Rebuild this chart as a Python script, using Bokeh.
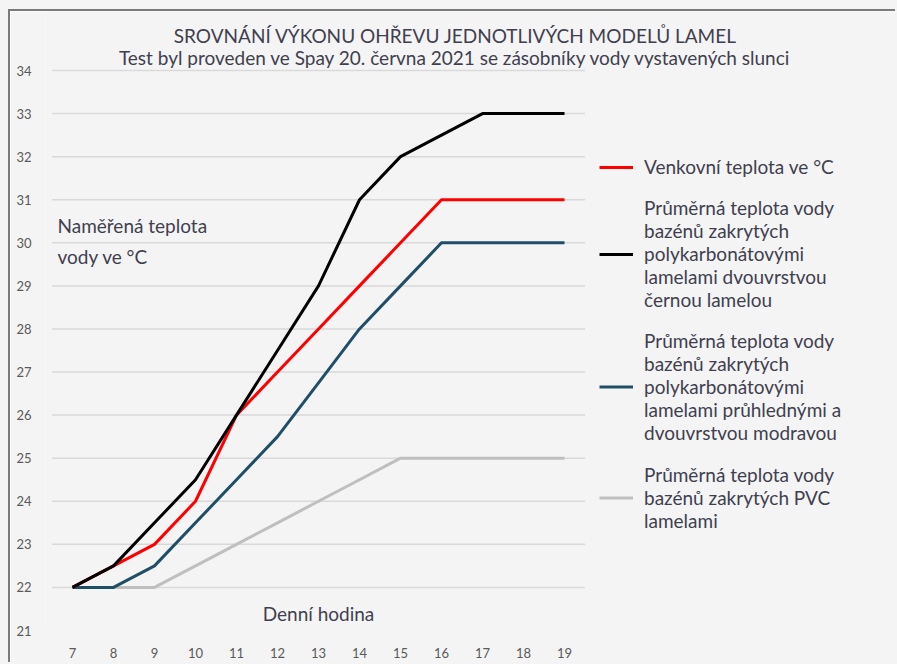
from bokeh.plotting import figure
from bokeh.models import Legend, LegendItem, Label, FixedTicker
from bokeh.embed import file_html
from bokeh.resources import INLINE

# ---- data ----
hours = [7, 8, 9, 10, 11, 12, 13, 14, 15, 16, 17, 18, 19]
outdoor = [22, 22.5, 23, 24, 26, 27, 28, 29, 30, 31, 31, 31, 31]
black_pc = [22, 22.5, 23.5, 24.5, 26, 27.5, 29, 31, 32, 32.5, 33, 33, 33]
clear_pc = [22, 22, 22.5, 23.5, 24.5, 25.5, 26.75, 28, 29, 30, 30, 30, 30]
pvc = [22, 22, 22, 22.5, 23, 23.5, 24, 24.5, 25, 25, 25, 25, 25]
y_ticks = [21, 22, 23, 24, 25, 26, 27, 28, 29, 30, 31, 32, 33, 34]

names = [
    "Venkovní teplota ve °C",
    "Průměrná teplota vody\nbazénů zakrytých\npolykarbonátovými\nlamelami dvouvrstvou\nčernou lamelou",
    "Průměrná teplota vody\nbazénů zakrytých\npolykarbonátovými\nlamelami průhlednými a\ndvouvrstvou modravou",
    "Průměrná teplota vody\nbazénů zakrytých PVC\nlamelami",
]
title1 = "SROVNÁNÍ VÝKONU OHŘEVU JEDNOTLIVÝCH MODELŮ LAMEL"
title2 = "Test byl proveden ve Spay 20. června 2021 se zásobníky vody vystavených slunci"
ylab = ["Naměřená teplota", "vody ve °C"]
xlab = "Denní hodina"

FONT = "Lato"
TXT = "#3f3f4f"
BG = "#f4f4f4"

# ---- layout (page pixels) ----
OX, OY = 10, 11            # canvas origin on the page
FL, FR, FT, FB = 45, 897, 11, 630   # frame edges
X7, XS = 72, 41.0          # pixel of hour 7, px per hour
YS = (630 - 70) / 13.0     # px per degree

def sx(px):
    return px - FL

def sy(py):
    return FB - py

W, H = 897 - OX, 664 - OY
p = figure(width=W, height=H,
           x_range=(7 - (X7 - FL) / XS, 7 + (FR - X7) / XS),
           y_range=(y_ticks[0], y_ticks[0] + (FB - FT) / YS),
           output_backend="svg", toolbar_location=None,
           min_border_left=FL - OX, min_border_top=0, min_border_right=0,
           min_border_bottom=H - (FB - OY), background_fill_color=BG,
           border_fill_color=BG, outline_line_color=None)
p.margin = (OY, 0, 0, OX)
p.styles = {"box-shadow": "-2px -2px 0 0 #7a7a7a, 0 0 0 14px #f4f4f4"}

p.xgrid.visible = False
p.ygrid.visible = False
p.segment(x0=hours[0] - 0.5, x1=hours[-1] + 0.5, y0=y_ticks[1:], y1=y_ticks[1:],
          line_color="#d9d9d9", line_width=1.5)

for ax in (p.xaxis, p.yaxis):
    ax.axis_line_color = None
    ax.major_tick_line_color = None
    ax.minor_tick_line_color = None
    ax.major_label_text_font = FONT
    ax.major_label_text_font_size = "13px"
    ax.major_label_text_color = "#595959"
p.xaxis.ticker = FixedTicker(ticks=hours)
p.yaxis.ticker = FixedTicker(ticks=y_ticks)
p.xaxis.major_label_standoff = 11
p.yaxis.major_label_standoff = 8

colors = ["#ff0000", "#000000", "#1f4e66", "#bfbfbf"]
series = [outdoor, black_pc, clear_pc, pvc]
rends = [None] * 4
for i in [3, 2, 0, 1]:
    rends[i] = p.line(hours, series[i], line_color=colors[i], line_width=3,
                      line_join="round")

# legends (one per entry so each marker is centred on its text block)
leg_specs = [(178, 22), (311, 110), (444, 111), (532, 65)]   # bottom px, height
for i, (bottom, gh) in enumerate(leg_specs):
    leg = Legend(items=[LegendItem(label=names[i], renderers=[rends[i]])],
                 location=(sx(599), sy(bottom)), margin=0, padding=0, spacing=0,
                 glyph_width=34, glyph_height=gh, label_standoff=11,
                 label_text_font=FONT, label_text_font_size="19px",
                 label_text_color=TXT, label_text_line_height=1.16,
                 border_line_color=None, background_fill_alpha=0)
    p.add_layout(leg, "center")

# titles and annotations
for txt, py in [(title1, 35), (title2, 57)]:
    p.add_layout(Label(x=sx(455), y=sy(py), x_units="screen", y_units="screen",
                       text=txt, text_align="center", text_baseline="middle",
                       text_font=FONT, text_font_size="19px", text_color=TXT))
for txt, py in [(ylab[0], 225), (ylab[1], 256)]:
    p.add_layout(Label(x=sx(57), y=sy(py), x_units="screen", y_units="screen",
                       text=txt, text_align="left", text_baseline="middle",
                       text_font=FONT, text_font_size="19px", text_color=TXT))
p.add_layout(Label(x=sx(318), y=sy(613), x_units="screen", y_units="screen",
                   text=xlab, text_align="center", text_baseline="middle",
                   text_font=FONT, text_font_size="19px", text_color=TXT))

open("out.html", "w").write(file_html(p, INLINE))
